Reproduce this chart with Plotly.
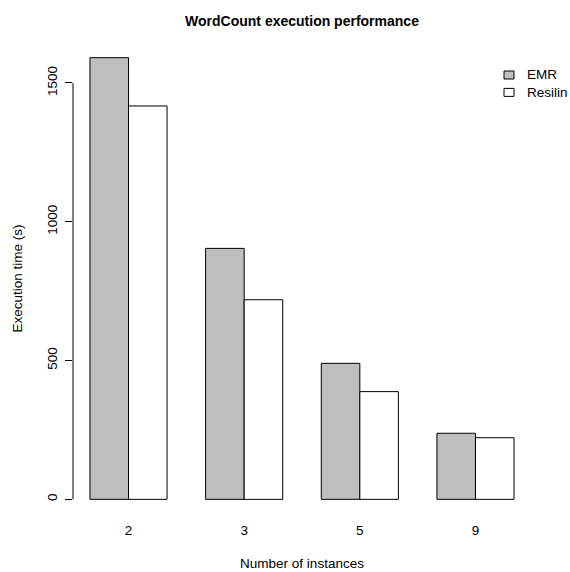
import plotly.graph_objects as go

instances = ["2", "3", "5", "9"]
series_names = ["EMR", "Resilin"]
emr = [1591, 904, 490, 238]
resilin = [1417, 719, 388, 222]
y_ticks = [0, 500, 1000, 1500]

font = "Liberation Sans, Arial, sans-serif"
fills = ["#BEBEBE", "#FFFFFF"]

fig = go.Figure()
for name, vals, fill in zip(series_names, [emr, resilin], fills):
    fig.add_trace(go.Bar(x=instances, y=vals, name=name, showlegend=False,
                         marker=dict(color=fill, line=dict(color="#000000", width=1))))

ymax = max(emr + resilin)
fig.update_layout(
    width=570, height=572,
    margin=dict(l=73, r=39, t=40, b=55, autoexpand=False),
    paper_bgcolor="white", plot_bgcolor="white",
    barmode="group", bargap=1/3, bargroupgap=0,
    font=dict(family=font, size=13.5, color="#000000"),
    title=dict(text="<b>WordCount execution performance</b>", x=302 / 570,
               xanchor="center", y=1 - 21 / 572, yanchor="middle",
               font=dict(size=14)),
    showlegend=False,
    xaxis=dict(type="category", range=[-0.48, 3.48], showline=False, ticks="",
               showgrid=False, zeroline=False, ticklabelstandoff=3, automargin=False,
               title=dict(text="Number of instances", standoff=22, font=dict(size=13.5))),
    yaxis=dict(range=[-0.04 * ymax, 1.04 * ymax], tickvals=y_ticks,
               ticktext=[str(v) for v in y_ticks], ticks="outside", ticklen=7,
               tickcolor="#000000", tickangle=-90, showline=False, showgrid=False,
               zeroline=False, automargin=False, ticklabelstandoff=3,
               title=dict(text="Execution time (s)", standoff=18, font=dict(size=13.5))),
)
fig.add_shape(type="line", xref="paper", yref="y", x0=0, x1=0,
              y0=y_ticks[0], y1=y_ticks[-1], line=dict(color="#000000", width=1))

# legend drawn R-style (no frame)
for i, (name, fill) in enumerate(zip(series_names, fills)):
    yc = 75 + 17.4 * i
    fig.add_shape(type="rect", xref="paper", yref="paper",
                  x0=(504 - 73) / 458, x1=(514 - 73) / 458,
                  y0=(572 - 55 - yc - 4) / 477,
                  y1=(572 - 55 - yc + 4) / 477,
                  fillcolor=fill, line=dict(color="#000000", width=1))
    fig.add_annotation(text=name, xref="paper", yref="paper",
                       x=(525 - 73) / 458, xanchor="left",
                       y=(572 - 55 - yc) / 477, yanchor="middle",
                       showarrow=False, font=dict(size=13.5))

fig.write_html("out.html", post_script="document.body.style.margin='0';",
               config={"displayModeBar": False})
